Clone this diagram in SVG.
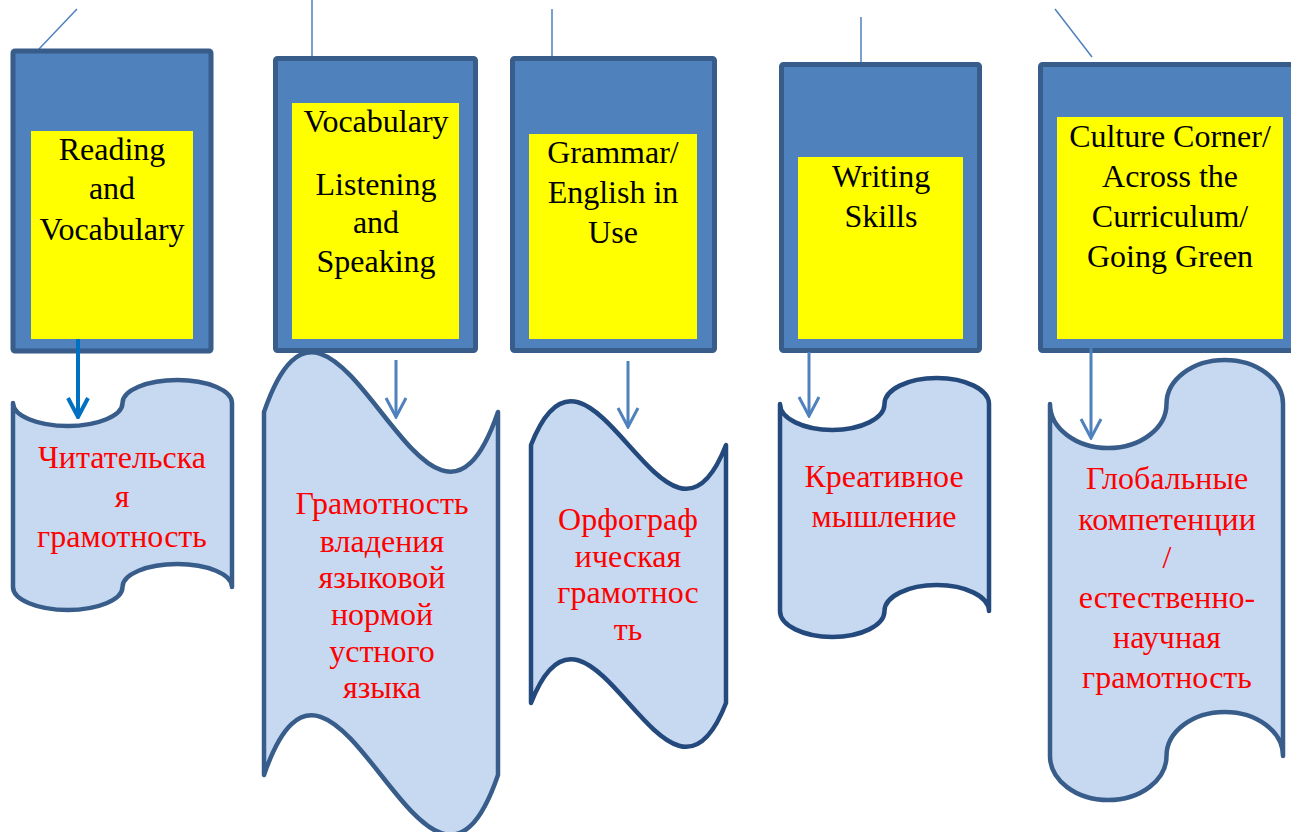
<svg xmlns="http://www.w3.org/2000/svg" width="1291" height="832" viewBox="0 0 1291 832">
<style>
.outer{fill:#4F81BD;stroke:#385D8A;stroke-width:5}
.inner{fill:#FFFF00;stroke:none}
.scroll{fill:#C6D9F1;stroke:#385D8A;stroke-width:4.5;stroke-linejoin:round}
.scroll.dark{stroke:#24497C}
.t{font-family:"Liberation Serif","Times New Roman",serif;font-size:32px;fill:#000;text-anchor:middle}
.r{font-family:"Liberation Serif","Times New Roman",serif;font-size:32px;fill:#FF0000;text-anchor:middle}
.lead{stroke:#4F81BD;stroke-width:1.5;fill:none}
.arr{stroke:#4F81BD;stroke-width:3;fill:none;marker-end:url(#ah)}
.arr1{stroke:#0070C0;stroke-width:4;fill:none;marker-end:url(#ah1)}
</style>
<defs>
<marker id="ah" viewBox="-22 -12 24 24" refX="0" refY="0" markerWidth="24" markerHeight="24" markerUnits="userSpaceOnUse" orient="auto">
<path d="M-19,-10 L0,0 L-19,10" fill="none" stroke="#4F81BD" stroke-width="3"/>
</marker>
<marker id="ah1" viewBox="-22 -12 24 24" refX="0" refY="0" markerWidth="24" markerHeight="24" markerUnits="userSpaceOnUse" orient="auto">
<path d="M-19,-10 L0,0 L-19,10" fill="none" stroke="#0070C0" stroke-width="4"/>
</marker>
</defs>
<rect width="1291" height="832" fill="#FFFFFF"/>

<g id="connectors">
<line class="lead" x1="77" y1="9" x2="39" y2="49"/>
<line class="lead" x1="312" y1="0" x2="312" y2="56"/>
<line class="lead" x1="552" y1="9" x2="552" y2="56"/>
<line class="lead" x1="861" y1="17" x2="861" y2="62"/>
<line class="lead" x1="1055" y1="9" x2="1092" y2="57"/>
</g>

<g id="box-reading">
<rect class="outer" x="13" y="51" width="198" height="300" rx="2"/>
<rect class="inner" x="31" y="131" width="162" height="208"/>
<text class="t" x="112" y="160">Reading</text>
<text class="t" x="112" y="199">and</text>
<text class="t" x="112" y="240">Vocabulary</text>
</g>

<g id="box-vocabulary">
<rect class="outer" x="275.5" y="58.5" width="200" height="292" rx="2"/>
<rect class="inner" x="292" y="103" width="167" height="236"/>
<text class="t" x="376" y="132">Vocabulary</text>
<text class="t" x="376" y="195">Listening</text>
<text class="t" x="376" y="233">and</text>
<text class="t" x="376" y="272">Speaking</text>
</g>

<g id="box-grammar">
<rect class="outer" x="512.5" y="58.5" width="202" height="292" rx="2"/>
<rect class="inner" x="529" y="134" width="168" height="205"/>
<text class="t" x="613" y="163">Grammar/</text>
<text class="t" x="613" y="203">English in</text>
<text class="t" x="613" y="243">Use</text>
</g>

<g id="box-writing">
<rect class="outer" x="781.5" y="64.5" width="198" height="286" rx="2"/>
<rect class="inner" x="798" y="157" width="165" height="182"/>
<text class="t" x="881" y="187">Writing</text>
<text class="t" x="881" y="227">Skills</text>
</g>

<g id="box-culture">
<rect class="outer" x="1040.5" y="64.5" width="259" height="286" rx="2"/>
<rect class="inner" x="1057" y="117" width="226" height="222"/>
<text class="t" x="1170" y="147">Culture Corner/</text>
<text class="t" x="1170" y="187">Across the</text>
<text class="t" x="1170" y="227">Curriculum/</text>
<text class="t" x="1170" y="267">Going Green</text>
</g>

<g id="scroll-reading">
<path class="scroll" d="M13,403 A54.75,23 0 0 0 122.5,403 A54.75,23 0 0 1 232,403 L232,587 A54.75,23 0 0 0 122.5,587 A54.75,23 0 0 1 13,587 Z"/>
<text class="r" x="122" y="468">Читательска</text>
<text class="r" x="122" y="507">я</text>
<text class="r" x="122" y="547">грамотность</text>
</g>

<g id="scroll-speaking">
<path class="scroll" d="M264,412 C335,205 427,619 498,412 L498,775 C427,982 335,568 264,775 Z"/>
<text class="r" x="382" y="514">Грамотность</text>
<text class="r" x="382" y="552">владения</text>
<text class="r" x="382" y="588">языковой</text>
<text class="r" x="382" y="625">нормой</text>
<text class="r" x="382" y="662">устного</text>
<text class="r" x="382" y="698">языка</text>
</g>

<g id="scroll-grammar">
<path class="scroll dark" d="M531,445 C590,293 667,597 726,445 L726,703 C667,855 590,551 531,703 Z"/>
<text class="r" x="628" y="530">Орфограф</text>
<text class="r" x="628" y="567">ическая</text>
<text class="r" x="628" y="603">грамотнос</text>
<text class="r" x="628" y="640">ть</text>
</g>

<g id="scroll-writing">
<path class="scroll dark" d="M780,404 A52.25,26 0 0 0 884.5,404 A52.25,26 0 0 1 989,404 L989,611 A52.25,26 0 0 0 884.5,611 A52.25,26 0 0 1 780,611 Z"/>
<text class="r" x="884" y="487">Креативное</text>
<text class="r" x="884" y="527">мышление</text>
</g>

<g id="scroll-culture">
<path class="scroll" d="M1050,404 A58.25,44 0 0 0 1166.5,404 A58.25,44 0 0 1 1283,404 L1283,756 A58.25,44 0 0 0 1166.5,756 A58.25,44 0 0 1 1050,756 Z"/>
<text class="r" x="1167" y="489">Глобальные</text>
<text class="r" x="1167" y="530">компетенции</text>
<text class="r" x="1167" y="568">/</text>
<text class="r" x="1167" y="608">естественно-</text>
<text class="r" x="1167" y="648">научная</text>
<text class="r" x="1167" y="688">грамотность</text>
</g>

<g id="arrows">
<line class="arr1" x1="78" y1="339" x2="78" y2="417"/>
<line class="arr" x1="396" y1="360" x2="396" y2="417"/>
<line class="arr" x1="628" y1="361" x2="628" y2="427"/>
<line class="arr" x1="809" y1="352" x2="809" y2="416"/>
<line class="arr" x1="1091" y1="340" x2="1091" y2="438"/>
</g>
</svg>
